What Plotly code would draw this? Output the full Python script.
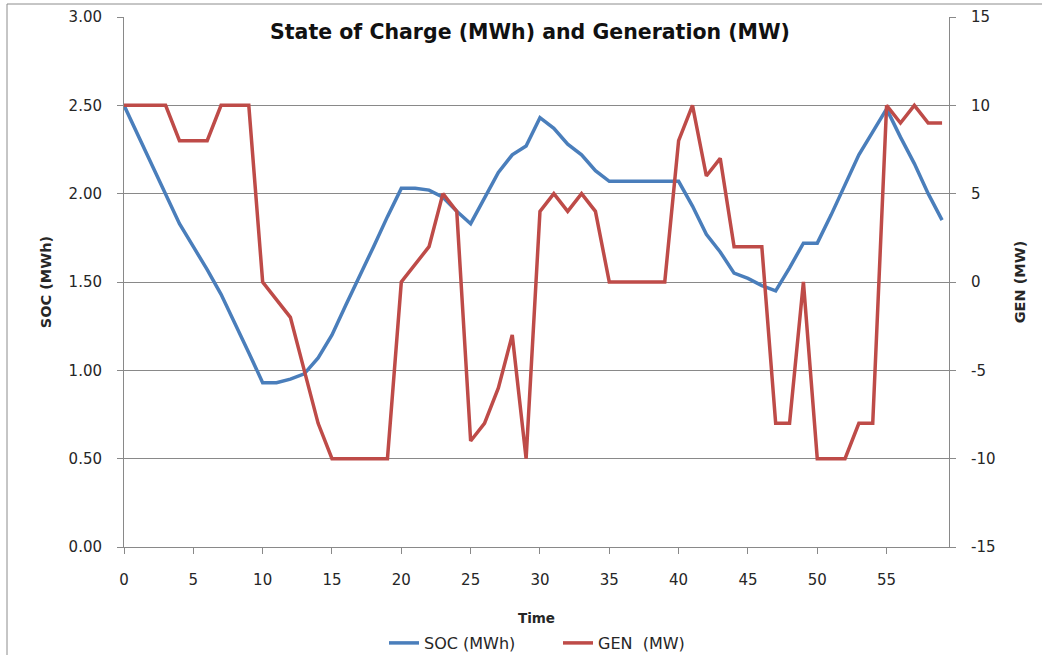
import plotly.graph_objects as go

# ---- data ----
time = list(range(60))
soc_mwh = [2.50, 2.33, 2.17, 2.00, 1.83, 1.70, 1.57, 1.43, 1.27, 1.10,
           0.93, 0.93, 0.95, 0.98, 1.07, 1.20, 1.37, 1.53, 1.70, 1.87,
           2.03, 2.03, 2.02, 1.98, 1.90, 1.83, 1.98, 2.12, 2.22, 2.27,
           2.43, 2.37, 2.28, 2.22, 2.13, 2.07, 2.07, 2.07, 2.07, 2.07,
           2.07, 1.93, 1.77, 1.67, 1.55, 1.52, 1.48, 1.45, 1.58, 1.72,
           1.72, 1.88, 2.05, 2.22, 2.35, 2.48, 2.32, 2.17, 2.00, 1.85]
gen_mw = [10, 10, 10, 10, 8, 8, 8, 10, 10, 10,
          0, -1, -2, -5, -8, -10, -10, -10, -10, -10,
          0, 1, 2, 5, 4, -9, -8, -6, -3, -10,
          4, 5, 4, 5, 4, 0, 0, 0, 0, 0,
          8, 10, 6, 7, 2, 2, 2, -8, -8, 0,
          -10, -10, -10, -8, -8, 10, 9, 10, 9, 9]

x_tickvals = [0, 5, 10, 15, 20, 25, 30, 35, 40, 45, 50, 55]
y1_tickvals = [0.0, 0.5, 1.0, 1.5, 2.0, 2.5, 3.0]
y1_ticktext = ["0.00", "0.50", "1.00", "1.50", "2.00", "2.50", "3.00"]
y2_tickvals = [-15, -10, -5, 0, 5, 10, 15]
y2_ticktext = ["-15", "-10", "-5", "0", "5", "10", "15"]

title_text = "State of Charge (MWh) and Generation (MW)"
x_title = "Time"
y1_title = "SOC (MWh)"
y2_title = "GEN (MW)"

# ---- styling ----
W, H = 1042, 655
ML, MR, MT, MB = 124, 93, 17, 108
FONT = "DejaVu Sans"
GRID = "#898989"
TXT = "#262626"
BLUE = "#4A7EBB"
RED = "#BE4B48"

fig = go.Figure()
fig.add_trace(go.Scatter(x=time, y=soc_mwh, name="SOC (MWh)", mode="lines",
                         line=dict(color=BLUE, width=3.5), yaxis="y"))
fig.add_trace(go.Scatter(x=time, y=gen_mw, name="GEN  (MW)", mode="lines",
                         line=dict(color=RED, width=3.5), yaxis="y2"))

pw = W - ML - MR
ph = H - MT - MB
# outer chart border (only top/left visible in the reference)
fig.add_shape(type="rect", xref="paper", yref="paper",
              x0=(7 - ML) / pw, x1=(W + 20 - ML) / pw,
              y0=-(MB + 20) / ph, y1=(H - MB - 4) / ph,
              line=dict(color="#8c8c8c", width=1), layer="below")

fig.update_layout(
    template="none",
    width=W, height=H,
    margin=dict(l=ML, r=MR, t=MT, b=MB, pad=0, autoexpand=False),
    paper_bgcolor="white", plot_bgcolor="white",
    font=dict(family=FONT, color=TXT, size=15),
    title=dict(text="<b>" + title_text + "</b>", x=530 / W, xanchor="center",
               y=1 - 31.5 / H, yanchor="middle",
               font=dict(family=FONT, size=20.5, color="#111111")),
    showlegend=True,
    legend=dict(orientation="h", x=(558 - ML) / pw, xanchor="center",
                y=-(643 - (H - MB)) / ph, yanchor="middle",
                font=dict(family=FONT, size=16, color=TXT),
                itemwidth=30, entrywidth=129, tracegroupgap=0,
                bgcolor="rgba(0,0,0,0)", borderwidth=0),
    xaxis=dict(range=[0, 59.5], tickmode="array", tickvals=x_tickvals,
               showgrid=False,
               showline=True, linecolor=GRID, linewidth=1,
               ticks="outside", ticklen=6, tickcolor=GRID,
               ticklabelstandoff=13, tickfont=dict(size=15, color=TXT),
               zeroline=False, automargin=False,
               title=dict(text="<b>" + x_title + "</b>", standoff=25,
                          font=dict(size=13.5, color=TXT))),
    yaxis=dict(range=[0, 3], tickmode="array", tickvals=y1_tickvals,
               ticktext=y1_ticktext,
               showgrid=True, gridcolor=GRID, gridwidth=1,
               showline=True, linecolor=GRID, linewidth=1,
               ticks="outside", ticklen=6, tickcolor=GRID,
               ticklabelstandoff=12, tickfont=dict(size=15, color=TXT),
               zeroline=False, automargin=False,
               title=dict(text="<b>" + y1_title + "</b>", standoff=13,
                          font=dict(size=14.5, color=TXT))),
    yaxis2=dict(range=[-15, 15], tickmode="array", tickvals=y2_tickvals,
                ticktext=y2_ticktext, overlaying="y", side="right",
                showgrid=False, showline=True, linecolor=GRID, linewidth=1,
                ticks="outside", ticklen=6, tickcolor=GRID,
                ticklabelstandoff=12, tickfont=dict(size=15, color=TXT),
                zeroline=False, automargin=False,
                title=dict(text="<b>" + y2_title + "</b>", standoff=20,
                           font=dict(size=14.5, color=TXT))),
)

fig.write_html("out.html",
               config={"displayModeBar": False},
               post_script="document.body.style.margin='0';document.body.style.overflow='hidden';")
